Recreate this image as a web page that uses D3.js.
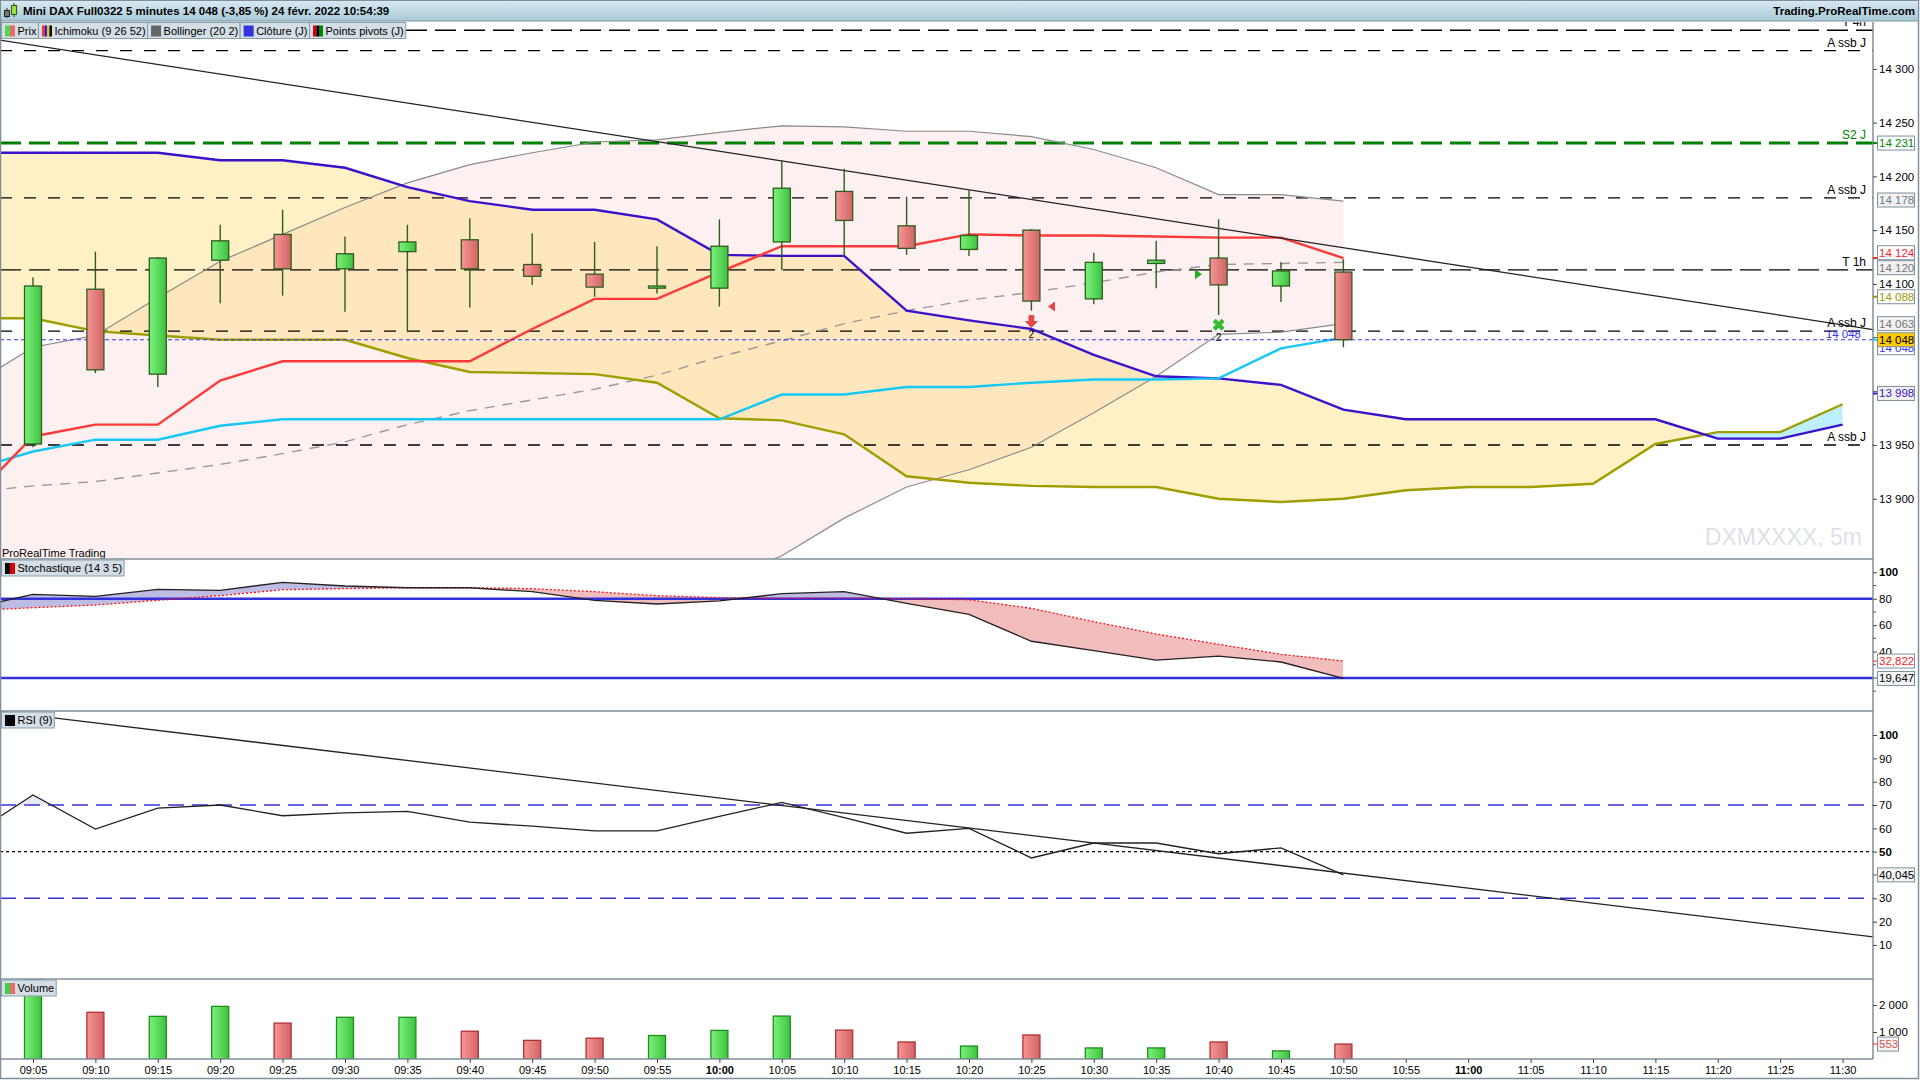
<!DOCTYPE html>
<html>
<head>
<meta charset="utf-8">
<script src="https://cdn.jsdelivr.net/npm/d3@7"></script>
<style>
body { margin: 0; background: #fff; overflow: hidden; }
svg { display: block; font-family: "Liberation Sans", Arial, sans-serif; }
</style>
</head>
<body>
<svg id="chart" width="1920" height="1080"></svg>
<script>
// time slots, index 0 = 09:00 (off screen, only for the indicators entering at the left edge)
var times = ["09:00","09:05","09:10","09:15","09:20","09:25","09:30","09:35","09:40","09:45","09:50","09:55",
	"10:00","10:05","10:10","10:15","10:20","10:25","10:30","10:35","10:40","10:45","10:50","10:55",
	"11:00","11:05","11:10","11:15","11:20","11:25","11:30"];

// candles 09:05 .. 10:50
var open  = [13951,14095,14016,14122,14146,14114,14130,14141,14118,14109,14096,14096,14139,14186,14154,14132,14150,14086,14119,14124,14098,14111];
var high  = [14106,14130,14125,14155,14169,14144,14155,14161,14147,14139,14135,14160,14215,14207,14181,14187,14151,14129,14140,14160,14120,14123];
var low   = [13948,14017,14004,14082,14089,14074,14055,14078,14099,14088,14091,14079,14113,14126,14127,14126,14075,14081,14096,14071,14083,14041];
var close = [14098,14020,14124,14140,14114,14128,14139,14114,14107,14097,14098,14135,14189,14159,14133,14145,14084,14120,14122,14099,14112,14048];
var volume = [3100,1730,1580,1950,1330,1545,1545,1030,690,770,870,1060,1590,1070,630,480,890,410,410,630,300,553];

// indicators 09:00 .. 10:50
var tenkan = [13898,13958,13969,13969,14010,14028,14028,14028,14028,14058,14086,14086,14111,14135,14135,14135,14146,14145,14145,14144,14143,14143,14124];
var kijun  = [13927,13944,13955,13955,13968,13974,13974,13974,13974,13974,13974,13974,13974,13997,13997,14004,14004,14008,14011,14011,14012,14040,14050];
var bollUp  = [14005,14041,14052,14087,14121,14146,14171,14194,14211,14222,14232,14234,14241,14247,14246,14242,14242,14237,14225,14208,14183,14183,14177];
var bollMid = [13906,13912,13916,13924,13932,13942,13953,13969,13982,13992,14002,14015,14032,14047,14063,14075,14085,14092,14101,14111,14118,14119,14120];
var bollLow = [13807,13783,13780,13761,13743,13738,13735,13744,13753,13762,13772,13796,13823,13847,13882,13911,13927,13948,13980,14014,14053,14055,14063];
var stochK = [72.7,83.3,81.8,87.1,86.3,92.4,89.6,88.3,88.3,85.3,78.8,76,78.3,83.8,85.3,76.5,68.2,47.8,40.7,33.6,36.6,32.1,19.647];
var stochD = [70.9,73.2,75.2,78.8,82.3,86.8,87.6,88.3,88.3,87.6,85.3,82.3,80.8,80.2,80.5,80,79.2,72.7,62.6,53.3,45.5,37.9,32.822];
var rsi = [56.9,74.3,59.7,68.7,70,65.4,66.6,67.3,62.7,60.9,58.9,58.9,65.1,71.1,64.6,57.9,60,47.3,53.7,53.7,49.1,51.6,40.045];

// cloud 09:00 .. 11:30
var senkouA = [14222,14222,14222,14222,14215,14215,14208,14190,14177,14169,14169,14160,14127,14126,14126,14075,14066,14058,14034,14014,14012,14006,13983,13974,13974,13974,13974,13974,13956,13956,13969];
var senkouB = [14068,14068,14056,14052,14048,14048,14048,14031,14018,14017,14016,14008,13975,13973,13960,13921,13915,13912,13911,13911,13900,13897,13900,13908,13911,13911,13914,13951,13962,13962,13988];

// horizontal levels
var levelNames  = ["T 4h","A ssb J","S2 J","A ssb J","T 1h","A ssb J","A ssb J"];
var levelValues = [14336,14317,14231,14180,14113,14056,13950];
var lastClose = 14048;

// trend lines (time index, value)
var priceTrend = [[1,14322],[22,14133.6]];
var rsiTrend = [[1,108.4],[22,40.8]];

// signals
var markIdx   = [17,17.33,19.67,20];
var markPrice = [14065,14079,14109,14062];
var markType  = ["down","left","right","cross"];

// right side value tags
var priceTags = [14231,14178,14124,14120,14088,14063,14048,13998];
var priceTagKind = ["s2","boll","tenkan","boll","sb","boll","last","sa"];

// tick labels (those hidden behind the tags in the original are ticks only)
var priceTicks = [13900,13950,14100,14150,14200,14250,14300];
var priceTicksBare = [14000,14050];
var stochTicks = [40,60,80,100];
var rsiTicks = [10,20,30,50,60,70,80,90,100];
var volTicks = [1000,2000];

var svg = d3.select("#chart");
var defs = svg.append("defs");

var AX = 1873;
var P = {top: 22, bottom: 559};
var S = {top: 559, bottom: 711};
var R = {top: 711, bottom: 979};
var V = {top: 979, bottom: 1059};

var x = d3.scaleLinear().domain([0, 30]).range([-29.4, 1842.6]);
var yP = d3.scaleLinear().domain([13900, 14300]).range([498.8, 68.9]);
var yS = d3.scaleLinear().domain([20, 80]).range([678, 598.7]);
var yR = d3.scaleLinear().domain([30, 70]).range([898.3, 805]);
var yV = d3.scaleLinear().domain([0, 2000]).range([1059, 1005]);

function sp(v) { return d3.format(",")(v).replace(/,/g, " "); }
function dec(v) { return d3.format(".3f")(v).replace(".", ","); }

function hgrad(id, c1, c2) {
	var g = defs.append("linearGradient").attr("id", id)
		.attr("x1", "0%").attr("x2", "100%").attr("y1", "0%").attr("y2", "0%");
	g.append("stop").attr("offset", "0%").attr("stop-color", c1);
	g.append("stop").attr("offset", "100%").attr("stop-color", c2);
}
hgrad("gGreen", "#7CF27C", "#3EC23E");
hgrad("gRed", "#F69696", "#D26464");
var tg = defs.append("linearGradient").attr("id", "gTitle")
	.attr("x1", "0%").attr("x2", "0%").attr("y1", "0%").attr("y2", "100%");
tg.append("stop").attr("offset", "0%").attr("stop-color", "#D8E9F1");
tg.append("stop").attr("offset", "100%").attr("stop-color", "#A7C9D7");

function clipRect(id, p) {
	defs.append("clipPath").attr("id", id).append("rect")
		.attr("x", 0).attr("y", p.top).attr("width", AX).attr("height", p.bottom - p.top);
}
clipRect("cP", P); clipRect("cS", S); clipRect("cR", R); clipRect("cV", V);

var idx = function (d, i) { return x(i); };

// ---------------- price panel ----------------
var gp = svg.append("g").attr("clip-path", "url(#cP)");

var bollData = bollUp.map(function (u, i) { return {u: u, l: bollLow[i], m: bollMid[i]}; });
gp.append("path").datum(bollData)
	.attr("d", d3.area().x(idx).y0(function (d) { return yP(d.l); }).y1(function (d) { return yP(d.u); }))
	.attr("fill", "#FDF0F0");

var cloud = senkouA.map(function (a, i) { return {a: a, b: senkouB[i]}; });
defs.append("clipPath").attr("id", "aboveB").append("path").datum(cloud)
	.attr("d", d3.area().x(idx).y0(P.top).y1(function (d) { return yP(d.b); }));
defs.append("clipPath").attr("id", "belowB").append("path").datum(cloud)
	.attr("d", d3.area().x(idx).y0(function (d) { return yP(d.b); }).y1(P.bottom));
var cloudArea = d3.area().x(idx).y0(function (d) { return yP(d.b); }).y1(function (d) { return yP(d.a); });
gp.append("g").attr("clip-path", "url(#aboveB)").append("path").datum(cloud)
	.attr("d", cloudArea).attr("fill", "rgb(255,218,110)").attr("fill-opacity", 0.4);
gp.append("g").attr("clip-path", "url(#belowB)").append("path").datum(cloud)
	.attr("d", cloudArea).attr("fill", "rgb(100,218,255)").attr("fill-opacity", 0.42);

// levels
levelValues.forEach(function (v, i) {
	var name = levelNames[i];
	var isT = name.charAt(0) === "T", isS = name.charAt(0) === "S";
	gp.append("line")
		.attr("x1", 0).attr("x2", AX).attr("y1", yP(v)).attr("y2", yP(v))
		.attr("stroke", isS ? "#008000" : "#000")
		.attr("stroke-width", isS ? 3 : 1.4)
		.attr("stroke-dasharray", isT || isS ? "21 8" : "12 12");
});

// bollinger lines
gp.append("path").datum(bollData)
	.attr("d", d3.line().x(idx).y(function (d) { return yP(d.u); }))
	.attr("fill", "none").attr("stroke", "#8A8A8A").attr("stroke-width", 1.2);
gp.append("path").datum(bollData)
	.attr("d", d3.line().x(idx).y(function (d) { return yP(d.l); }))
	.attr("fill", "none").attr("stroke", "#8A8A8A").attr("stroke-width", 1.2);
gp.append("path").datum(bollData)
	.attr("d", d3.line().x(idx).y(function (d) { return yP(d.m); }))
	.attr("fill", "none").attr("stroke", "#999").attr("stroke-width", 1.4).attr("stroke-dasharray", "10 8");

// ichimoku lines
function pline(arr, color, w) {
	gp.append("path").datum(arr)
		.attr("d", d3.line().x(idx).y(function (d) { return yP(d); }))
		.attr("fill", "none").attr("stroke", color).attr("stroke-width", w);
}
pline(senkouB, "#9E9E00", 2.4);
pline(senkouA, "#3A12CC", 2.4);
pline(kijun, "#16C8F5", 2.4);
pline(tenkan, "#FF3838", 2.4);

// trend line
function extend(pts, i0, i1) {
	var k = (pts[1][1] - pts[0][1]) / (pts[1][0] - pts[0][0]);
	return [[i0, pts[0][1] + k * (i0 - pts[0][0])], [i1, pts[0][1] + k * (i1 - pts[0][0])]];
}
var pt = extend(priceTrend, 0.4, 31);
gp.append("line")
	.attr("x1", x(pt[0][0])).attr("y1", yP(pt[0][1])).attr("x2", x(pt[1][0])).attr("y2", yP(pt[1][1]))
	.attr("stroke", "#222").attr("stroke-width", 1.3);

gp.append("line").attr("x1", 0).attr("x2", AX).attr("y1", yP(lastClose)).attr("y2", yP(lastClose))
	.attr("stroke", "#3333FF").attr("stroke-width", 1).attr("stroke-dasharray", "4 3");

// candles
var candles = open.map(function (o, i) {
	return {i: i + 1, o: o, h: high[i], l: low[i], c: close[i], v: volume[i]};
});
gp.selectAll(".wick").data(candles).enter().append("line")
	.attr("x1", function (d) { return x(d.i); }).attr("x2", function (d) { return x(d.i); })
	.attr("y1", function (d) { return yP(d.h); }).attr("y2", function (d) { return yP(d.l); })
	.attr("stroke", "#2E5C1C").attr("stroke-width", 1.4);
gp.selectAll(".body").data(candles).enter().append("rect")
	.attr("x", function (d) { return x(d.i) - 8.5; })
	.attr("y", function (d) { return yP(Math.max(d.o, d.c)); })
	.attr("width", 17)
	.attr("height", function (d) { return Math.max(2, yP(Math.min(d.o, d.c)) - yP(Math.max(d.o, d.c))); })
	.attr("fill", function (d) { return d.c >= d.o ? "url(#gGreen)" : "url(#gRed)"; })
	.attr("stroke", "#2E5C1C").attr("stroke-width", 1.3);

// signals
markIdx.forEach(function (m, k) {
	var g = gp.append("g").attr("transform", "translate(" + x(m) + "," + yP(markPrice[k]) + ")");
	var t = markType[k];
	if (t === "down") {
		g.append("path").attr("d", "M-2.5,-6H2.5V0H6L0,6L-6,0H-2.5Z").attr("fill", "#E84848").attr("stroke", "#C03030").attr("stroke-width", 0.6);
		g.append("text").attr("y", 17).attr("text-anchor", "middle").attr("font-size", 10).text("2");
	} else if (t === "left") {
		g.append("path").attr("d", "M-4,0L3,-5V5Z").attr("fill", "#E84848");
	} else if (t === "right") {
		g.append("path").attr("d", "M4,0L-3,-5V5Z").attr("fill", "#22B022");
	} else {
		g.append("path").attr("d", d3.symbol().type(d3.symbolCross).size(90)).attr("transform", "rotate(45)").attr("fill", "#33BB33");
		g.append("text").attr("y", 16).attr("text-anchor", "middle").attr("font-size", 10).text("2");
	}
});

// level labels
levelValues.forEach(function (v, i) {
	gp.append("text").attr("x", 1866).attr("y", yP(v) - 4).attr("text-anchor", "end")
		.attr("font-size", 12).attr("fill", levelNames[i] === "S2 J" ? "#008000" : "#000").text(levelNames[i]);
});
gp.append("text").attr("x", 1861).attr("y", yP(lastClose) - 2).attr("text-anchor", "end")
	.attr("font-size", 11.5).attr("fill", "#3333FF").text(sp(lastClose));

gp.append("text").attr("x", 1862).attr("y", 545).attr("text-anchor", "end")
	.attr("font-size", 23).attr("fill", "#DDE1EA").text("DXMXXXX, 5m");
gp.append("text").attr("x", 2).attr("y", 557).attr("font-size", 11).text("ProRealTime Trading");

// ---------------- stochastic ----------------
var gs = svg.append("g").attr("clip-path", "url(#cS)");
var st = stochK.map(function (k, i) { return {k: k, d: stochD[i]}; });
defs.append("clipPath").attr("id", "aboveD").append("path").datum(st)
	.attr("d", d3.area().x(idx).y0(S.top).y1(function (d) { return yS(d.d); }));
defs.append("clipPath").attr("id", "belowD").append("path").datum(st)
	.attr("d", d3.area().x(idx).y0(function (d) { return yS(d.d); }).y1(S.bottom));
var stArea = d3.area().x(idx).y0(function (d) { return yS(d.d); }).y1(function (d) { return yS(d.k); });
gs.append("g").attr("clip-path", "url(#aboveD)").append("path").datum(st).attr("d", stArea).attr("fill", "#BDBDE3");
gs.append("g").attr("clip-path", "url(#belowD)").append("path").datum(st).attr("d", stArea).attr("fill", "#F2BDBD");
[80, 20].forEach(function (v) {
	gs.append("line").attr("x1", 0).attr("x2", AX).attr("y1", yS(v)).attr("y2", yS(v))
		.attr("stroke", "#3030DD").attr("stroke-width", 2.6);
});
gs.append("path").datum(stochD).attr("d", d3.line().x(idx).y(function (d) { return yS(d); }))
	.attr("fill", "none").attr("stroke", "#FF1010").attr("stroke-width", 1.3).attr("stroke-dasharray", "2 2");
gs.append("path").datum(stochK).attr("d", d3.line().x(idx).y(function (d) { return yS(d); }))
	.attr("fill", "none").attr("stroke", "#222").attr("stroke-width", 1.3);

// ---------------- RSI ----------------
var gr = svg.append("g").attr("clip-path", "url(#cR)");
defs.append("clipPath").attr("id", "above70").append("rect")
	.attr("x", 0).attr("y", R.top).attr("width", AX).attr("height", yR(70) - R.top);
gr.append("g").attr("clip-path", "url(#above70)").append("path").datum(rsi)
	.attr("d", d3.area().x(idx).y0(yR(70)).y1(function (d) { return yR(d); })).attr("fill", "#E8E8F0");
[70, 30].forEach(function (v) {
	gr.append("line").attr("x1", 0).attr("x2", AX).attr("y1", yR(v)).attr("y2", yR(v))
		.attr("stroke", "#3333DD").attr("stroke-width", 1.4).attr("stroke-dasharray", "16 8");
});
gr.append("line").attr("x1", 0).attr("x2", AX).attr("y1", yR(50)).attr("y2", yR(50))
	.attr("stroke", "#000").attr("stroke-width", 1.3).attr("stroke-dasharray", "3 3");
var rt = extend(rsiTrend, 0, 31);
gr.append("line")
	.attr("x1", x(rt[0][0])).attr("y1", yR(rt[0][1])).attr("x2", x(rt[1][0])).attr("y2", yR(rt[1][1]))
	.attr("stroke", "#222").attr("stroke-width", 1.3);
gr.append("path").datum(rsi).attr("d", d3.line().x(idx).y(function (d) { return yR(d); }))
	.attr("fill", "none").attr("stroke", "#222").attr("stroke-width", 1.3);

// ---------------- volume ----------------
var gv = svg.append("g").attr("clip-path", "url(#cV)");
gv.selectAll("rect").data(candles).enter().append("rect")
	.attr("x", function (d) { return x(d.i) - 8.5; })
	.attr("y", function (d) { return yV(d.v); })
	.attr("width", 17)
	.attr("height", function (d) { return yV(0) - yV(d.v); })
	.attr("fill", function (d) { return d.c >= d.o ? "url(#gGreen)" : "url(#gRed)"; })
	.attr("stroke", function (d) { return d.c >= d.o ? "#1E8E1E" : "#B03030"; })
	.attr("stroke-width", 1.3);

// ---------------- frame & axes ----------------
var frame = "#7F909B";
[S.top, R.top, V.top, V.bottom].forEach(function (yy) {
	svg.append("line").attr("x1", 0).attr("x2", AX).attr("y1", yy).attr("y2", yy)
		.attr("stroke", frame).attr("stroke-width", 1.5);
});
svg.append("line").attr("x1", AX).attr("x2", AX).attr("y1", P.top).attr("y2", V.bottom)
	.attr("stroke", frame).attr("stroke-width", 1.5);
svg.append("rect").attr("x", 0.5).attr("y", 0.5).attr("width", 1918).attr("height", 1078)
	.attr("fill", "none").attr("stroke", frame).attr("stroke-width", 1.5);

function rightAxis(scale, values, fmt, bold) {
	var g = svg.append("g").attr("transform", "translate(" + AX + ",0)")
		.call(d3.axisRight(scale).tickValues(values).tickSize(4).tickPadding(2).tickFormat(fmt));
	g.select(".domain").remove();
	g.selectAll("line").attr("stroke", "#444");
	g.selectAll("text").attr("font-size", 11.5).attr("font-family", "Liberation Sans, Arial, sans-serif").attr("fill", "#000")
		.attr("font-weight", function (d) { return bold && bold.indexOf(d) >= 0 ? "bold" : "normal"; });
	return g;
}
function minorTicks(scale, values, len) {
	values.forEach(function (v) {
		svg.append("line").attr("x1", AX).attr("x2", AX + len).attr("y1", scale(v)).attr("y2", scale(v)).attr("stroke", "#555");
	});
}
rightAxis(yP, priceTicks, sp);
minorTicks(yP, priceTicksBare, 4);
rightAxis(yS, stochTicks, d3.format("d"), [100]);
minorTicks(yS, [10, 30, 50, 70, 90], 3);
minorTicks(yS, [20], 4);
rightAxis(yR, rsiTicks, d3.format("d"), [100, 50]);
minorTicks(yR, [40], 4);
rightAxis(yV, volTicks, sp);

var xa = svg.append("g").attr("transform", "translate(0," + V.bottom + ")")
	.call(d3.axisBottom(x).tickValues(d3.range(1, 31)).tickSize(4).tickPadding(3)
		.tickFormat(function (i) { return times[i]; }));
xa.select(".domain").remove();
xa.selectAll("line").attr("stroke", "#444");
xa.selectAll("text").attr("font-size", 11).attr("font-family", "Liberation Sans, Arial, sans-serif").attr("fill", "#000")
	.attr("font-weight", function (i) { return times[i] === "10:00" || times[i] === "11:00" ? "bold" : "normal"; });

// value tags
var tagStyle = {
	s2: {c: "#008800", f: "#fff", t: "#008800"},
	boll: {c: "#777", f: "#F1F1F1", t: null},
	tenkan: {c: "#FF1A1A", f: "#fff", t: "#FF1A1A"},
	sb: {c: "#9A9A00", f: "#fff", t: "#9A9A00"},
	last: {c: "#000", f: "#FFCC00", t: "#16C8F5"},
	sa: {c: "#3A12CC", f: "#F1F1F1", t: "#3A12CC"}
};
function tag(yc, text, color, fill, w) {
	svg.append("rect").attr("x", AX + 4.5).attr("y", yc - 7).attr("width", w || 37).attr("height", 14)
		.attr("fill", fill).attr("stroke", "#7F909B");
	svg.append("text").attr("x", AX + 6).attr("y", yc + 4).attr("font-size", 11.5).attr("fill", color).text(text);
}
var tagY = priceTags.map(function (v) { return yP(v); });
// push overlapping tags apart
for (var it = 0; it < 20; it++) {
	for (var a = 0; a < tagY.length - 1; a++) {
		var gap = tagY[a + 1] - tagY[a];
		if (gap < 15 && priceTags[a + 1] !== priceTags[a]) {
			var shift = (15 - gap) / 2;
			tagY[a] -= shift; tagY[a + 1] += shift;
		}
	}
}
priceTags.forEach(function (v, i) {
	var s = tagStyle[priceTagKind[i]];
	if (s.t) {
		svg.append("line").attr("x1", AX).attr("x2", AX + 4).attr("y1", yP(v)).attr("y2", yP(v))
			.attr("stroke", s.t).attr("stroke-width", 2);
	}
	if (priceTagKind[i] === "last") {
		tag(tagY[i] + 8, sp(v), "#3333FF", "#fff");
	}
	tag(tagY[i], sp(v), s.c, s.f);
});
svg.append("line").attr("x1", AX).attr("x2", AX + 4).attr("y1", yS(stochD[22])).attr("y2", yS(stochD[22])).attr("stroke", "#FF1A1A");
tag(yS(stochD[22]), dec(stochD[22]), "#FF1A1A", "#fff");
tag(yS(stochK[22]), dec(stochK[22]), "#000", "#F4F4F4");
tag(yR(rsi[22]), dec(rsi[22]), "#000", "#F4F4F4");
svg.append("line").attr("x1", AX).attr("x2", AX + 4).attr("y1", yV(volume[21])).attr("y2", yV(volume[21])).attr("stroke", "#FF1A1A");
tag(yV(volume[21]), sp(volume[21]), "#E05050", "#F4F4F4", 21);

// ---------------- title bar & legends ----------------
svg.append("rect").attr("x", 0.5).attr("y", 0.5).attr("width", 1918).attr("height", 20.5)
	.attr("fill", "url(#gTitle)").attr("stroke", frame);
var icon = svg.append("g");
icon.append("line").attr("x1", 7).attr("x2", 7).attr("y1", 8).attr("y2", 18).attr("stroke", "#333");
icon.append("rect").attr("x", 4.5).attr("y", 10.5).attr("width", 5).attr("height", 6).attr("fill", "#777").attr("stroke", "#222");
icon.append("line").attr("x1", 14).attr("x2", 14).attr("y1", 3).attr("y2", 17).attr("stroke", "#333");
icon.append("rect").attr("x", 11.5).attr("y", 5.5).attr("width", 5).attr("height", 9).attr("fill", "#9BE03A").attr("stroke", "#2E5C1C");
svg.append("text").attr("x", 23).attr("y", 15).attr("font-size", 11.5).attr("font-weight", "bold")
	.text("Mini DAX Full0322 5 minutes 14 048 (-3,85 %) 24 févr. 2022 10:54:39");
svg.append("text").attr("x", 1915).attr("y", 15).attr("font-size", 11.5).attr("font-weight", "bold")
	.attr("text-anchor", "end").text("Trading.ProRealTime.com");

function legend(y0, items) {
	var xx = 1.5;
	items.forEach(function (it) {
		var g = svg.append("g");
		var bg = g.append("rect").attr("x", xx).attr("y", y0).attr("height", 16)
			.attr("fill", "#D3DEE5").attr("stroke", "#8A9EAA");
		var sw = 10 / it.c.length;
		it.c.forEach(function (c, k) {
			g.append("rect").attr("x", xx + 3.5 + k * sw).attr("y", y0 + 3).attr("width", sw).attr("height", 11).attr("fill", c);
		});
		var t = g.append("text").attr("x", xx + 16).attr("y", y0 + 12).attr("font-size", 11).text(it.label);
		var w = t.node().getComputedTextLength() + 18;
		bg.attr("width", w);
		xx += w;
	});
}
legend(22.5, [
	{label: "Prix", c: ["#55D455", "#E86B6B"]},
	{label: "Ichimoku (9 26 52)", c: ["#FF3333", "#3A12CC", "#D8C800", "#000"]},
	{label: "Bollinger (20 2)", c: ["#666"]},
	{label: "Clôture (J)", c: ["#3333DD"]},
	{label: "Points pivots (J)", c: ["#DD0000", "#000", "#008800"]}
]);
legend(S.top + 1, [{label: "Stochastique (14 3 5)", c: ["#000", "#DD0000"]}]);
legend(R.top + 1, [{label: "RSI (9)", c: ["#000"]}]);
legend(V.top + 1, [{label: "Volume", c: ["#44CC44", "#E86B6B"]}]);
</script>
</body>
</html>
